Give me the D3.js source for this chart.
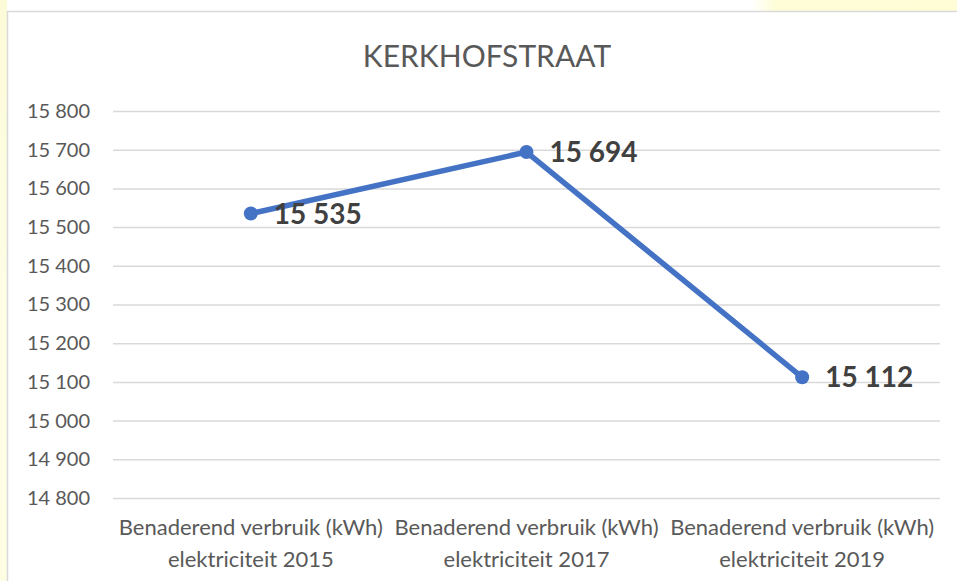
<!DOCTYPE html>
<html>
<head>
<meta charset="utf-8">
<script src="https://cdn.jsdelivr.net/npm/d3@7"></script>
<style>
  html, body { margin: 0; padding: 0; background: #fff; }
  svg { display: block; }
</style>
</head>
<body>
<div id="chart"></div>
<script>
const title = 'KERKHOFSTRAAT';
const categories = [
  ['Benaderend verbruik (kWh)', 'elektriciteit 2015'],
  ['Benaderend verbruik (kWh)', 'elektriciteit 2017'],
  ['Benaderend verbruik (kWh)', 'elektriciteit 2019']
];
const values = [15535, 15694, 15112];
const yTicks = [14800, 14900, 15000, 15100, 15200, 15300, 15400, 15500, 15600, 15700, 15800];

const W = 957, H = 581;
const margin = { top: 111, right: 17, bottom: 83, left: 113 };
const width = W - margin.left - margin.right;
const height = H - margin.top - margin.bottom;
const font = 'Lato, "Open Sans", sans-serif';

// thousands with a space, like the source
const fmt = v => d3.format(',')(v).replace(/,/g, ' ');

const svg = d3.select('#chart').append('svg')
  .attr('width', W)
  .attr('height', H);

// pale yellow slide background peeking out round the chart box
const defs = svg.append('defs');
const gTop = defs.append('linearGradient').attr('id', 'gTop');
gTop.append('stop').attr('offset', '0').attr('stop-color', '#fffde0').attr('stop-opacity', 0);
gTop.append('stop').attr('offset', '0.12').attr('stop-color', '#fefdd8').attr('stop-opacity', 1);
gTop.append('stop').attr('offset', '1').attr('stop-color', '#fefdd6');
svg.append('rect').attr('x', 750).attr('y', 0).attr('width', 207).attr('height', 11).attr('fill', 'url(#gTop)');
const gLeft = defs.append('linearGradient').attr('id', 'gLeft').attr('x1', 0).attr('y1', 0).attr('x2', 0).attr('y2', 1);
gLeft.append('stop').attr('offset', '0').attr('stop-color', '#fcfbd8');
gLeft.append('stop').attr('offset', '0.5').attr('stop-color', '#fdfde6');
gLeft.append('stop').attr('offset', '1').attr('stop-color', '#fdfde4');
svg.append('rect').attr('x', 0).attr('y', 0).attr('width', 7).attr('height', H).attr('fill', 'url(#gLeft)');

// chart box
svg.append('rect')
  .attr('x', 7.5).attr('y', 11.5)
  .attr('width', W + 20).attr('height', H + 20)
  .attr('fill', '#fff')
  .attr('stroke', '#d9d9d9')
  .attr('stroke-width', 1.5);

svg.append('text')
  .attr('x', 487).attr('y', 67)
  .attr('text-anchor', 'middle')
  .attr('font-family', font)
  .attr('font-size', 30)
  .attr('fill', '#595959')
  .text(title);

const g = svg.append('g').attr('transform', `translate(${margin.left},${margin.top})`);

const x = d3.scaleBand().domain(d3.range(categories.length)).range([0, width]);
const y = d3.scaleLinear().domain([14800, 15800]).range([height, 0]);

// gridlines + y labels
const yAxis = g.append('g')
  .call(d3.axisLeft(y).tickValues(yTicks).tickSize(-width).tickPadding(23).tickFormat(fmt));
yAxis.select('.domain').remove();
yAxis.selectAll('.tick line').attr('stroke', '#d9d9d9').attr('stroke-width', 1.5);
yAxis.selectAll('.tick text')
  .attr('font-family', font)
  .attr('font-size', 20)
  .attr('fill', '#595959');

// category labels
const xAxis = g.append('g').attr('transform', `translate(0,${height})`);
categories.forEach((lines, i) => {
  const t = xAxis.append('text')
    .attr('x', x(i) + x.bandwidth() / 2)
    .attr('y', 37)
    .attr('text-anchor', 'middle')
    .attr('font-family', font)
    .attr('font-size', 22)
    .attr('fill', '#595959');
  lines.forEach((s, j) => {
    t.append('tspan')
      .attr('x', x(i) + x.bandwidth() / 2)
      .attr('dy', j === 0 ? 0 : 32)
      .text(s);
  });
});

const cx = (d, i) => x(i) + x.bandwidth() / 2;

g.append('path')
  .datum(values)
  .attr('fill', 'none')
  .attr('stroke', '#4472c4')
  .attr('stroke-width', 5.5)
  .attr('stroke-linejoin', 'round')
  .attr('d', d3.line().x(cx).y(d => y(d)));

g.selectAll('circle.pt')
  .data(values)
  .enter().append('circle')
  .attr('class', 'pt')
  .attr('cx', cx)
  .attr('cy', d => y(d))
  .attr('r', 7)
  .attr('fill', '#4472c4');

g.selectAll('text.lbl')
  .data(values)
  .enter().append('text')
  .attr('class', 'lbl')
  .attr('x', (d, i) => cx(d, i) + 23)
  .attr('y', d => y(d))
  .attr('dy', '0.36em')
  .attr('font-family', font)
  .attr('font-weight', 'bold')
  .attr('font-size', 28)
  .attr('fill', '#404040')
  .text(fmt);
</script>
</body>
</html>
